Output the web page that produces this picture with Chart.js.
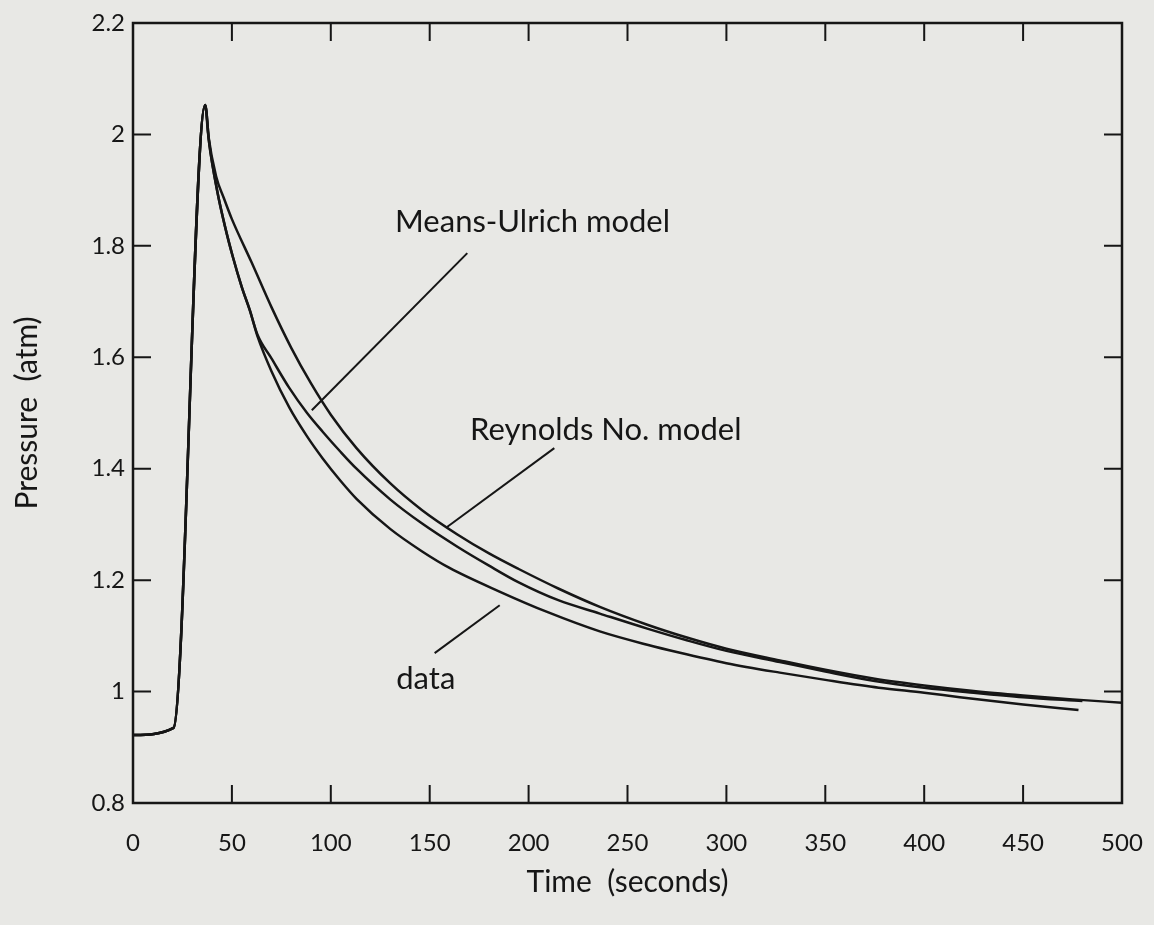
<!DOCTYPE html>
<html>
<head>
<meta charset="utf-8">
<script src="https://cdn.jsdelivr.net/npm/chart.js@4.4.0/dist/chart.umd.min.js"></script>
<style>
  html, body { margin: 0; padding: 0; background: #e8e8e5; }
  canvas { display: block; }
</style>
</head>
<body>
<canvas id="grafico" width="1154" height="925"></canvas>
<script>
// Datos (tiempo en s, presion en atm)
const tiempoReynolds = [0, 20.5, 36.5, 38, 42, 46, 50, 60, 70, 80, 90, 100, 113, 130, 146, 164, 180, 195, 215, 236, 260, 280, 300, 327, 350, 375, 400, 425, 450, 475, 500];
const presionReynolds = [0.922, 0.935, 2.053, 2.0, 1.925, 1.885, 1.848, 1.770, 1.690, 1.617, 1.553, 1.497, 1.437, 1.374, 1.326, 1.282, 1.248, 1.220, 1.185, 1.152, 1.120, 1.097, 1.077, 1.056, 1.039, 1.023, 1.011, 1.001, 0.993, 0.986, 0.980];

const tiempoMeans = [0, 20.5, 36.5, 38.5, 42.5, 46.5, 50.5, 55, 59, 63, 70, 79, 88, 96, 105, 113, 130, 146, 164, 180, 195, 215, 236, 260, 280, 300, 327, 350, 375, 400, 425, 450, 480];
const presionMeans = [0.922, 0.935, 2.053, 1.985, 1.900, 1.835, 1.780, 1.726, 1.685, 1.640, 1.598, 1.545, 1.500, 1.466, 1.430, 1.400, 1.345, 1.302, 1.260, 1.226, 1.196, 1.164, 1.140, 1.113, 1.092, 1.073, 1.053, 1.036, 1.019, 1.007, 0.998, 0.990, 0.983];

const tiempoDatos = [0, 20.5, 36.5, 38.5, 42.5, 46.5, 50.5, 55, 59, 63, 70, 79, 88, 96, 105, 113, 130, 146, 160, 185, 210, 236, 260, 276, 300, 327, 350, 377, 400, 418, 450, 478];
const presionDatos = [0.922, 0.935, 2.053, 1.985, 1.900, 1.835, 1.780, 1.726, 1.685, 1.637, 1.575, 1.510, 1.458, 1.418, 1.378, 1.346, 1.292, 1.252, 1.222, 1.180, 1.142, 1.108, 1.084, 1.070, 1.051, 1.034, 1.021, 1.007, 0.998, 0.990, 0.977, 0.967];

const ticksX = [0, 50, 100, 150, 200, 250, 300, 350, 400, 450, 500];
const ticksY = [0.8, 1.0, 1.2, 1.4, 1.6, 1.8, 2.0, 2.2];

// Etiquetas con su linea guia (coordenadas en unidades del grafico)
const etiquetas = [
    { texto: 'Means-Ulrich model', x: 202, y: 1.842, desde: [169, 1.787], hasta: [90.4, 1.505] },
    { texto: 'Reynolds No. model', x: 239, y: 1.470, desde: [213, 1.437], hasta: [158.6, 1.295] },
    { texto: 'data', x: 148, y: 1.023, desde: [185.4, 1.155], hasta: [152.5, 1.069] }
];

const tinta = '#161616';
const fuente = 'Lato, "DejaVu Sans", sans-serif';

function puntos(xs, ys) {
    return xs.map((x, i) => ({ x: x, y: ys[i] }));
}

function serie(label, xs, ys) {
    return {
        label: label,
        data: puntos(xs, ys),
        borderColor: tinta,
        borderWidth: 2.5,
        pointRadius: 0,
        cubicInterpolationMode: 'monotone',
        fill: false
    };
}

// Fondo, marco, marcas hacia adentro y etiquetas
const decoracion = {
    id: 'decoracion',
    beforeDraw(chart) {
        const ctx = chart.ctx;
        ctx.save();
        ctx.fillStyle = '#e8e8e5';
        ctx.fillRect(0, 0, chart.width, chart.height);
        ctx.restore();
    },
    afterDraw(chart) {
        const ctx = chart.ctx;
        const area = chart.chartArea;
        const sx = chart.scales.x;
        const sy = chart.scales.y;
        const largo = 18;
        ctx.save();
        ctx.strokeStyle = tinta;
        ctx.lineWidth = 2.5;
        ctx.strokeRect(area.left, area.top, area.right - area.left, area.bottom - area.top);
        ctx.lineWidth = 2;
        ctx.beginPath();
        ticksX.forEach(v => {
            const px = sx.getPixelForValue(v);
            ctx.moveTo(px, area.bottom);
            ctx.lineTo(px, area.bottom - largo);
            ctx.moveTo(px, area.top);
            ctx.lineTo(px, area.top + largo);
        });
        ticksY.forEach(v => {
            const py = sy.getPixelForValue(v);
            ctx.moveTo(area.left, py);
            ctx.lineTo(area.left + largo, py);
            ctx.moveTo(area.right, py);
            ctx.lineTo(area.right - largo, py);
        });
        ctx.stroke();

        ctx.fillStyle = tinta;
        ctx.font = '31px ' + fuente;
        ctx.textAlign = 'center';
        ctx.textBaseline = 'middle';
        ctx.lineWidth = 2;
        etiquetas.forEach(e => {
            ctx.fillText(e.texto, sx.getPixelForValue(e.x), sy.getPixelForValue(e.y));
            ctx.beginPath();
            ctx.moveTo(sx.getPixelForValue(e.desde[0]), sy.getPixelForValue(e.desde[1]));
            ctx.lineTo(sx.getPixelForValue(e.hasta[0]), sy.getPixelForValue(e.hasta[1]));
            ctx.stroke();
        });
        ctx.restore();
    }
};

const grafico = new Chart(document.getElementById('grafico'), {
    type: 'line',
    data: {
        datasets: [
            serie('Reynolds No. model', tiempoReynolds, presionReynolds),
            serie('Means-Ulrich model', tiempoMeans, presionMeans),
            serie('data', tiempoDatos, presionDatos)
        ]
    },
    options: {
        responsive: false,
        animation: false,
        layout: { padding: { left: 0, top: 23, right: 32, bottom: 0 } },
        plugins: {
            legend: { display: false },
            tooltip: { enabled: false }
        },
        scales: {
            x: {
                type: 'linear',
                min: 0,
                max: 500,
                afterFit(scale) {
                    scale.height = 122;
                    scale.paddingLeft = 0;
                    scale.paddingRight = 0;
                },
                afterBuildTicks(scale) { scale.ticks = ticksX.map(v => ({ value: v })); },
                grid: { display: false, drawTicks: false },
                border: { display: false },
                ticks: {
                    color: tinta,
                    padding: 26,
                    maxRotation: 0,
                    font: { family: fuente, size: 24 }
                },
                title: {
                    display: true,
                    text: 'Time  (seconds)',
                    color: tinta,
                    font: { family: fuente, size: 30 },
                    padding: { top: 0, bottom: 25 }
                }
            },
            y: {
                min: 0.8,
                max: 2.2,
                afterFit(scale) {
                    scale.width = 133;
                    scale.paddingTop = 0;
                    scale.paddingBottom = 0;
                },
                afterBuildTicks(scale) { scale.ticks = ticksY.map(v => ({ value: v })); },
                grid: { display: false, drawTicks: false },
                border: { display: false },
                ticks: {
                    color: tinta,
                    padding: 8,
                    font: { family: fuente, size: 24 },
                    callback: v => String(Number(v.toFixed(1)))
                },
                title: {
                    display: true,
                    text: 'Pressure  (atm)',
                    color: tinta,
                    font: { family: fuente, size: 30 },
                    padding: { top: 9, bottom: 0 }
                }
            }
        }
    },
    plugins: [decoracion]
});
</script>
</body>
</html>
